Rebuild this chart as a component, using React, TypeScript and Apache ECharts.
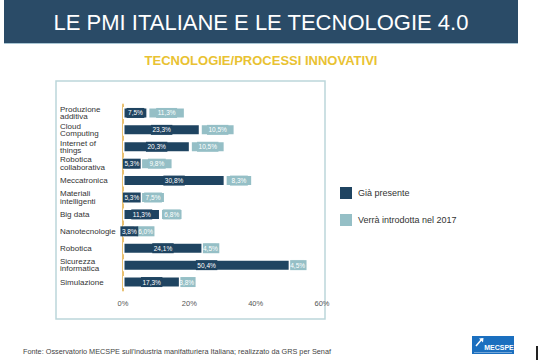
import React, { useEffect, useRef } from "react";
import * as echarts from "echarts";

const categories = [
  "Produzione\nadditiva",
  "Cloud\nComputing",
  "Internet of\nthings",
  "Robotica\ncollaborativa",
  "Meccatronica",
  "Materiali\nintelligenti",
  "Big data",
  "Nanotecnologie",
  "Robotica",
  "Sicurezza\ninformatica",
  "Simulazione",
];
const giaPresente = [7.5, 23.3, 20.3, 5.3, 30.8, 5.3, 11.3, 3.8, 24.1, 50.4, 17.3];
const verraIntrodotta = [11.3, 10.5, 10.5, 9.8, 8.3, 7.5, 6.8, 6.0, 4.5, 4.5, 3.8];
const seriesNames = ["Già presente", "Verrà introdotta nel 2017"];
const xTicks = [0, 20, 40, 60];

const DARK = "#1f4461";
const LIGHT = "#95bfc6";
const FONT = "Liberation Sans, Arial, sans-serif";

const fmt = (v: number) => v.toFixed(1).replace(".", ",") + "%";

export default function App() {
  const ref = useRef<HTMLDivElement>(null);
  useEffect(() => {
    if (!ref.current) return;
    const chart = echarts.init(ref.current, undefined, { renderer: "svg" });
    const labelStyle = (bg: string) => ({
      show: true,
      position: "inside" as const,
      color: "#ffffff",
      fontSize: 6.5,
      lineHeight: 10,
      padding: [0, 1.5],
      backgroundColor: bg,
      fontFamily: FONT,
      formatter: (p: any) => fmt(p.value),
    });
    chart.setOption({
      animation: false,
      backgroundColor: "#ffffff",
      textStyle: { fontFamily: FONT },
      graphic: [
        { type: "rect", shape: { x: 4, y: 0, width: 514, height: 43 }, style: { fill: "#2a4b67" }, silent: true },
        { type: "rect", shape: { x: 4, y: 43, width: 514, height: 1 }, style: { fill: "#a9c6d4" }, silent: true },
        {
          type: "text", x: 261, y: 22,
          style: { text: "LE PMI ITALIANE E LE TECNOLOGIE 4.0", fill: "#ffffff", font: "22px " + FONT, align: "center", verticalAlign: "middle" },
        },
        {
          type: "text", x: 261, y: 60,
          style: { text: "TECNOLOGIE/PROCESSI INNOVATIVI", fill: "#e9c232", font: "bold 13px " + FONT, align: "center", verticalAlign: "middle" },
        },
        { type: "rect", shape: { x: 56, y: 81, width: 269, height: 238 }, style: { fill: "none", stroke: "#bcd6da", lineWidth: 1.5 }, silent: true, z: -1 },
        {
          type: "text", x: 23, y: 351,
          style: { text: "Fonte: Osservatorio MECSPE sull'industria manifatturiera Italiana; realizzato da GRS per Senaf", fill: "#444444", font: "7.3px " + FONT, align: "left", verticalAlign: "middle" },
        },
        { type: "rect", shape: { x: 472, y: 336, width: 42, height: 18 }, style: { fill: "#1b6fbf" } },
        { type: "line", shape: { x1: 476, y1: 346, x2: 482, y2: 339 }, style: { stroke: "#ffffff", lineWidth: 1.5 } },
        { type: "polygon", shape: { points: [[479, 338.5], [483.5, 338], [483, 342.5]] }, style: { fill: "#ffffff" } },
        {
          type: "text", x: 499, y: 347,
          style: { text: "MECSPE", fill: "#ffffff", font: "bold 7px " + FONT, align: "center", verticalAlign: "middle" },
        },
        { type: "rect", shape: { x: 474, y: 352, width: 38, height: 0.6 }, style: { fill: "#cfe0f2" } },
        { type: "rect", shape: { x: 536, y: 346, width: 2, height: 14 }, style: { fill: "#222222" } },
      ],
      legend: {
        data: seriesNames,
        orient: "vertical",
        left: 333,
        top: 180,
        itemWidth: 14,
        itemHeight: 14,
        itemGap: 11,
        icon: "rect",
        textStyle: { fontSize: 9, color: "#333333", fontFamily: FONT },
      },
      grid: { left: 123, right: 218, top: 104.5, bottom: 69.5 },
      xAxis: {
        type: "value",
        min: 0,
        max: 60,
        interval: 20,
        axisLine: { show: false },
        axisTick: { show: false },
        splitLine: { show: false },
        axisLabel: {
          formatter: (v: number) => (xTicks.includes(v) ? v + "%" : ""),
          fontSize: 7.5,
          color: "#555555",
          margin: 9,
          fontFamily: FONT,
        },
      },
      yAxis: {
        type: "category",
        data: categories,
        inverse: true,
        axisLine: { show: true, lineStyle: { color: "#e9c070", width: 2 } },
        axisTick: { show: false },
        axisLabel: {
          align: "left",
          margin: 63,
          fontSize: 8,
          lineHeight: 7.5,
          color: "#333333",
          fontFamily: FONT,
        },
      },
      series: [
        {
          name: seriesNames[0],
          type: "bar",
          stack: "tot",
          z: 4,
          data: giaPresente,
          barWidth: 12,
          itemStyle: { color: DARK, borderColor: "#ffffff", borderWidth: 1.5 },
          label: labelStyle(DARK),
        },
        {
          name: seriesNames[1],
          type: "bar",
          stack: "tot",
          z: 3,
          data: verraIntrodotta,
          barWidth: 12,
          itemStyle: { color: LIGHT, borderColor: "#ffffff", borderWidth: 1.5 },
          label: labelStyle(LIGHT),
        },
      ],
    });
    return () => chart.dispose();
  }, []);
  return <div ref={ref} style={{ position: "fixed", left: 0, top: 0, width: 540, height: 360 }} />;
}
